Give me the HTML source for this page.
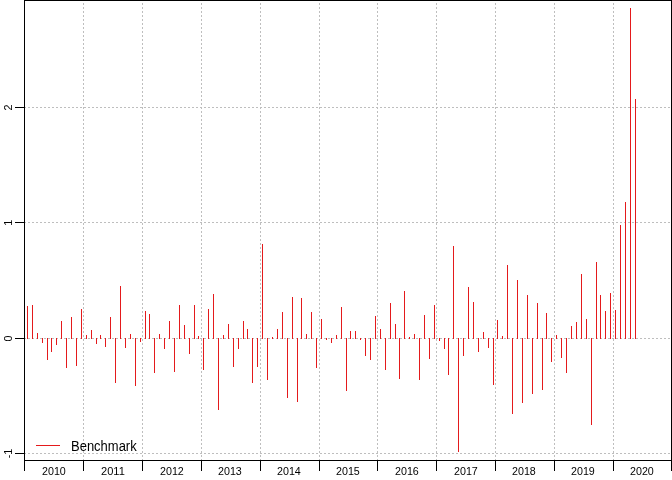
<!DOCTYPE html>
<html lang="en"><head><meta charset="utf-8"><title>Benchmark</title>
<style>html,body{margin:0;padding:0;background:#fff;}body{width:672px;height:480px;overflow:hidden;}svg{display:block;}text{font-family:"Liberation Sans",sans-serif;fill:#000;}</style>
</head><body>
<svg width="672" height="480" viewBox="0 0 672 480">
<rect x="0" y="0" width="672" height="480" fill="#fff"/>
<g stroke="#BEBEBE" stroke-width="1" stroke-dasharray="2 2" shape-rendering="crispEdges" fill="none">
<line x1="83.5" y1="461" x2="83.5" y2="0"/>
<line x1="142.5" y1="461" x2="142.5" y2="0"/>
<line x1="201.5" y1="461" x2="201.5" y2="0"/>
<line x1="260.5" y1="461" x2="260.5" y2="0"/>
<line x1="319.5" y1="461" x2="319.5" y2="0"/>
<line x1="377.5" y1="461" x2="377.5" y2="0"/>
<line x1="436.5" y1="461" x2="436.5" y2="0"/>
<line x1="495.5" y1="461" x2="495.5" y2="0"/>
<line x1="554.5" y1="461" x2="554.5" y2="0"/>
<line x1="613.5" y1="461" x2="613.5" y2="0"/>
<line x1="24" y1="107.5" x2="672" y2="107.5"/>
<line x1="24" y1="222.5" x2="672" y2="222.5"/>
<line x1="24" y1="338.5" x2="672" y2="338.5"/>
<line x1="24" y1="453.5" x2="672" y2="453.5"/>
</g>
<g fill="#E41A1C" shape-rendering="crispEdges">
<rect x="27" y="306" width="1" height="33"/>
<rect x="32" y="305" width="1" height="34"/>
<rect x="37" y="333" width="1" height="6"/>
<rect x="42" y="338" width="1" height="5"/>
<rect x="47" y="338" width="1" height="22"/>
<rect x="51" y="338" width="1" height="14"/>
<rect x="56" y="338" width="1" height="7"/>
<rect x="61" y="321" width="1" height="18"/>
<rect x="66" y="338" width="1" height="30"/>
<rect x="71" y="317" width="1" height="22"/>
<rect x="76" y="338" width="1" height="28"/>
<rect x="81" y="309" width="1" height="30"/>
<rect x="86" y="335" width="1" height="4"/>
<rect x="91" y="330" width="1" height="9"/>
<rect x="96" y="338" width="1" height="6"/>
<rect x="100" y="335" width="1" height="4"/>
<rect x="105" y="338" width="1" height="9"/>
<rect x="110" y="317" width="1" height="22"/>
<rect x="115" y="338" width="1" height="45"/>
<rect x="120" y="286" width="1" height="53"/>
<rect x="125" y="338" width="1" height="10"/>
<rect x="130" y="334" width="1" height="5"/>
<rect x="135" y="338" width="1" height="48"/>
<rect x="140" y="338" width="1" height="4"/>
<rect x="145" y="311" width="1" height="28"/>
<rect x="149" y="314" width="1" height="25"/>
<rect x="154" y="338" width="1" height="35"/>
<rect x="159" y="334" width="1" height="5"/>
<rect x="164" y="338" width="1" height="11"/>
<rect x="169" y="321" width="1" height="18"/>
<rect x="174" y="338" width="1" height="34"/>
<rect x="179" y="305" width="1" height="34"/>
<rect x="184" y="325" width="1" height="14"/>
<rect x="189" y="338" width="1" height="16"/>
<rect x="194" y="305" width="1" height="34"/>
<rect x="198" y="336" width="1" height="3"/>
<rect x="203" y="338" width="1" height="32"/>
<rect x="208" y="309" width="1" height="30"/>
<rect x="213" y="294" width="1" height="45"/>
<rect x="218" y="338" width="1" height="72"/>
<rect x="223" y="335" width="1" height="4"/>
<rect x="228" y="324" width="1" height="15"/>
<rect x="233" y="338" width="1" height="29"/>
<rect x="238" y="338" width="1" height="11"/>
<rect x="243" y="321" width="1" height="18"/>
<rect x="247" y="329" width="1" height="10"/>
<rect x="252" y="338" width="1" height="45"/>
<rect x="257" y="338" width="1" height="29"/>
<rect x="262" y="244" width="1" height="95"/>
<rect x="267" y="338" width="1" height="42"/>
<rect x="272" y="337" width="1" height="2"/>
<rect x="277" y="329" width="1" height="10"/>
<rect x="282" y="312" width="1" height="27"/>
<rect x="287" y="338" width="1" height="60"/>
<rect x="292" y="297" width="1" height="42"/>
<rect x="297" y="338" width="1" height="64"/>
<rect x="301" y="298" width="1" height="41"/>
<rect x="306" y="334" width="1" height="5"/>
<rect x="311" y="312" width="1" height="27"/>
<rect x="316" y="338" width="1" height="30"/>
<rect x="321" y="319" width="1" height="20"/>
<rect x="326" y="338" width="1" height="2"/>
<rect x="331" y="338" width="1" height="5"/>
<rect x="336" y="335" width="1" height="4"/>
<rect x="341" y="307" width="1" height="32"/>
<rect x="346" y="338" width="1" height="53"/>
<rect x="350" y="331" width="1" height="8"/>
<rect x="355" y="331" width="1" height="8"/>
<rect x="360" y="338" width="1" height="2"/>
<rect x="365" y="338" width="1" height="18"/>
<rect x="370" y="338" width="1" height="22"/>
<rect x="375" y="316" width="1" height="23"/>
<rect x="380" y="329" width="1" height="10"/>
<rect x="385" y="338" width="1" height="32"/>
<rect x="390" y="303" width="1" height="36"/>
<rect x="395" y="324" width="1" height="15"/>
<rect x="399" y="338" width="1" height="41"/>
<rect x="404" y="291" width="1" height="48"/>
<rect x="409" y="337" width="1" height="2"/>
<rect x="414" y="334" width="1" height="5"/>
<rect x="419" y="338" width="1" height="42"/>
<rect x="424" y="315" width="1" height="24"/>
<rect x="429" y="338" width="1" height="21"/>
<rect x="434" y="305" width="1" height="34"/>
<rect x="439" y="338" width="1" height="3"/>
<rect x="444" y="338" width="1" height="11"/>
<rect x="448" y="338" width="1" height="37"/>
<rect x="453" y="246" width="1" height="93"/>
<rect x="458" y="338" width="1" height="114"/>
<rect x="463" y="338" width="1" height="18"/>
<rect x="468" y="287" width="1" height="52"/>
<rect x="473" y="302" width="1" height="37"/>
<rect x="478" y="338" width="1" height="14"/>
<rect x="483" y="332" width="1" height="7"/>
<rect x="488" y="338" width="1" height="10"/>
<rect x="493" y="338" width="1" height="47"/>
<rect x="497" y="320" width="1" height="19"/>
<rect x="502" y="336" width="1" height="3"/>
<rect x="507" y="265" width="1" height="74"/>
<rect x="512" y="338" width="1" height="76"/>
<rect x="517" y="280" width="1" height="59"/>
<rect x="522" y="338" width="1" height="65"/>
<rect x="527" y="295" width="1" height="44"/>
<rect x="532" y="338" width="1" height="56"/>
<rect x="537" y="303" width="1" height="36"/>
<rect x="542" y="338" width="1" height="52"/>
<rect x="546" y="313" width="1" height="26"/>
<rect x="551" y="338" width="1" height="24"/>
<rect x="556" y="335" width="1" height="4"/>
<rect x="561" y="338" width="1" height="20"/>
<rect x="566" y="338" width="1" height="35"/>
<rect x="571" y="326" width="1" height="13"/>
<rect x="576" y="322" width="1" height="17"/>
<rect x="581" y="274" width="1" height="65"/>
<rect x="586" y="319" width="1" height="20"/>
<rect x="591" y="338" width="1" height="87"/>
<rect x="596" y="262" width="1" height="77"/>
<rect x="600" y="295" width="1" height="44"/>
<rect x="605" y="311" width="1" height="28"/>
<rect x="610" y="293" width="1" height="46"/>
<rect x="615" y="310" width="1" height="29"/>
<rect x="620" y="225" width="1" height="114"/>
<rect x="625" y="202" width="1" height="137"/>
<rect x="630" y="8" width="1" height="331"/>
<rect x="635" y="99" width="1" height="240"/>
</g>
<rect x="36" y="445" width="24" height="1" fill="#E41A1C" shape-rendering="crispEdges"/>
<text x="71" y="451" font-size="14px" textLength="65.7" lengthAdjust="spacingAndGlyphs">Benchmark</text>
<g fill="#000" shape-rendering="crispEdges">
<rect x="24" y="0" width="648" height="1"/>
<rect x="24" y="460" width="648" height="1"/>
<rect x="24" y="0" width="1" height="461"/>
<rect x="671" y="0" width="1" height="461"/>
<rect x="24" y="460" width="1" height="11"/>
<rect x="83" y="460" width="1" height="11"/>
<rect x="142" y="460" width="1" height="11"/>
<rect x="201" y="460" width="1" height="11"/>
<rect x="260" y="460" width="1" height="11"/>
<rect x="319" y="460" width="1" height="11"/>
<rect x="377" y="460" width="1" height="11"/>
<rect x="436" y="460" width="1" height="11"/>
<rect x="495" y="460" width="1" height="11"/>
<rect x="554" y="460" width="1" height="11"/>
<rect x="613" y="460" width="1" height="11"/>
<rect x="671" y="460" width="1" height="11"/>
<rect x="15" y="107" width="10" height="1"/>
<rect x="15" y="222" width="10" height="1"/>
<rect x="15" y="338" width="10" height="1"/>
<rect x="15" y="453" width="10" height="1"/>
</g>
<text x="42" y="475" font-size="10.8px" textLength="23.8" lengthAdjust="spacingAndGlyphs">2010</text>
<text x="101" y="475" font-size="10.8px" textLength="23.8" lengthAdjust="spacingAndGlyphs">2011</text>
<text x="160" y="475" font-size="10.8px" textLength="23.8" lengthAdjust="spacingAndGlyphs">2012</text>
<text x="218" y="475" font-size="10.8px" textLength="23.8" lengthAdjust="spacingAndGlyphs">2013</text>
<text x="277" y="475" font-size="10.8px" textLength="23.8" lengthAdjust="spacingAndGlyphs">2014</text>
<text x="336" y="475" font-size="10.8px" textLength="23.8" lengthAdjust="spacingAndGlyphs">2015</text>
<text x="395" y="475" font-size="10.8px" textLength="23.8" lengthAdjust="spacingAndGlyphs">2016</text>
<text x="454" y="475" font-size="10.8px" textLength="23.8" lengthAdjust="spacingAndGlyphs">2017</text>
<text x="512" y="475" font-size="10.8px" textLength="23.8" lengthAdjust="spacingAndGlyphs">2018</text>
<text x="571" y="475" font-size="10.8px" textLength="23.8" lengthAdjust="spacingAndGlyphs">2019</text>
<text x="630" y="475" font-size="10.8px" textLength="23.8" lengthAdjust="spacingAndGlyphs">2020</text>
<text transform="translate(12 107.5) rotate(-90)" font-size="10.8px" text-anchor="middle">2</text>
<text transform="translate(12 338.5) rotate(-90)" font-size="10.8px" text-anchor="middle">0</text>
<text transform="translate(12 222.5) rotate(-90)" font-size="10.8px" x="-3.2">1</text>
<text transform="translate(12 453.5) rotate(-90)" font-size="10.8px"><tspan x="-4.8">-</tspan><tspan x="-1.2">1</tspan></text>
</svg>
</body></html>
